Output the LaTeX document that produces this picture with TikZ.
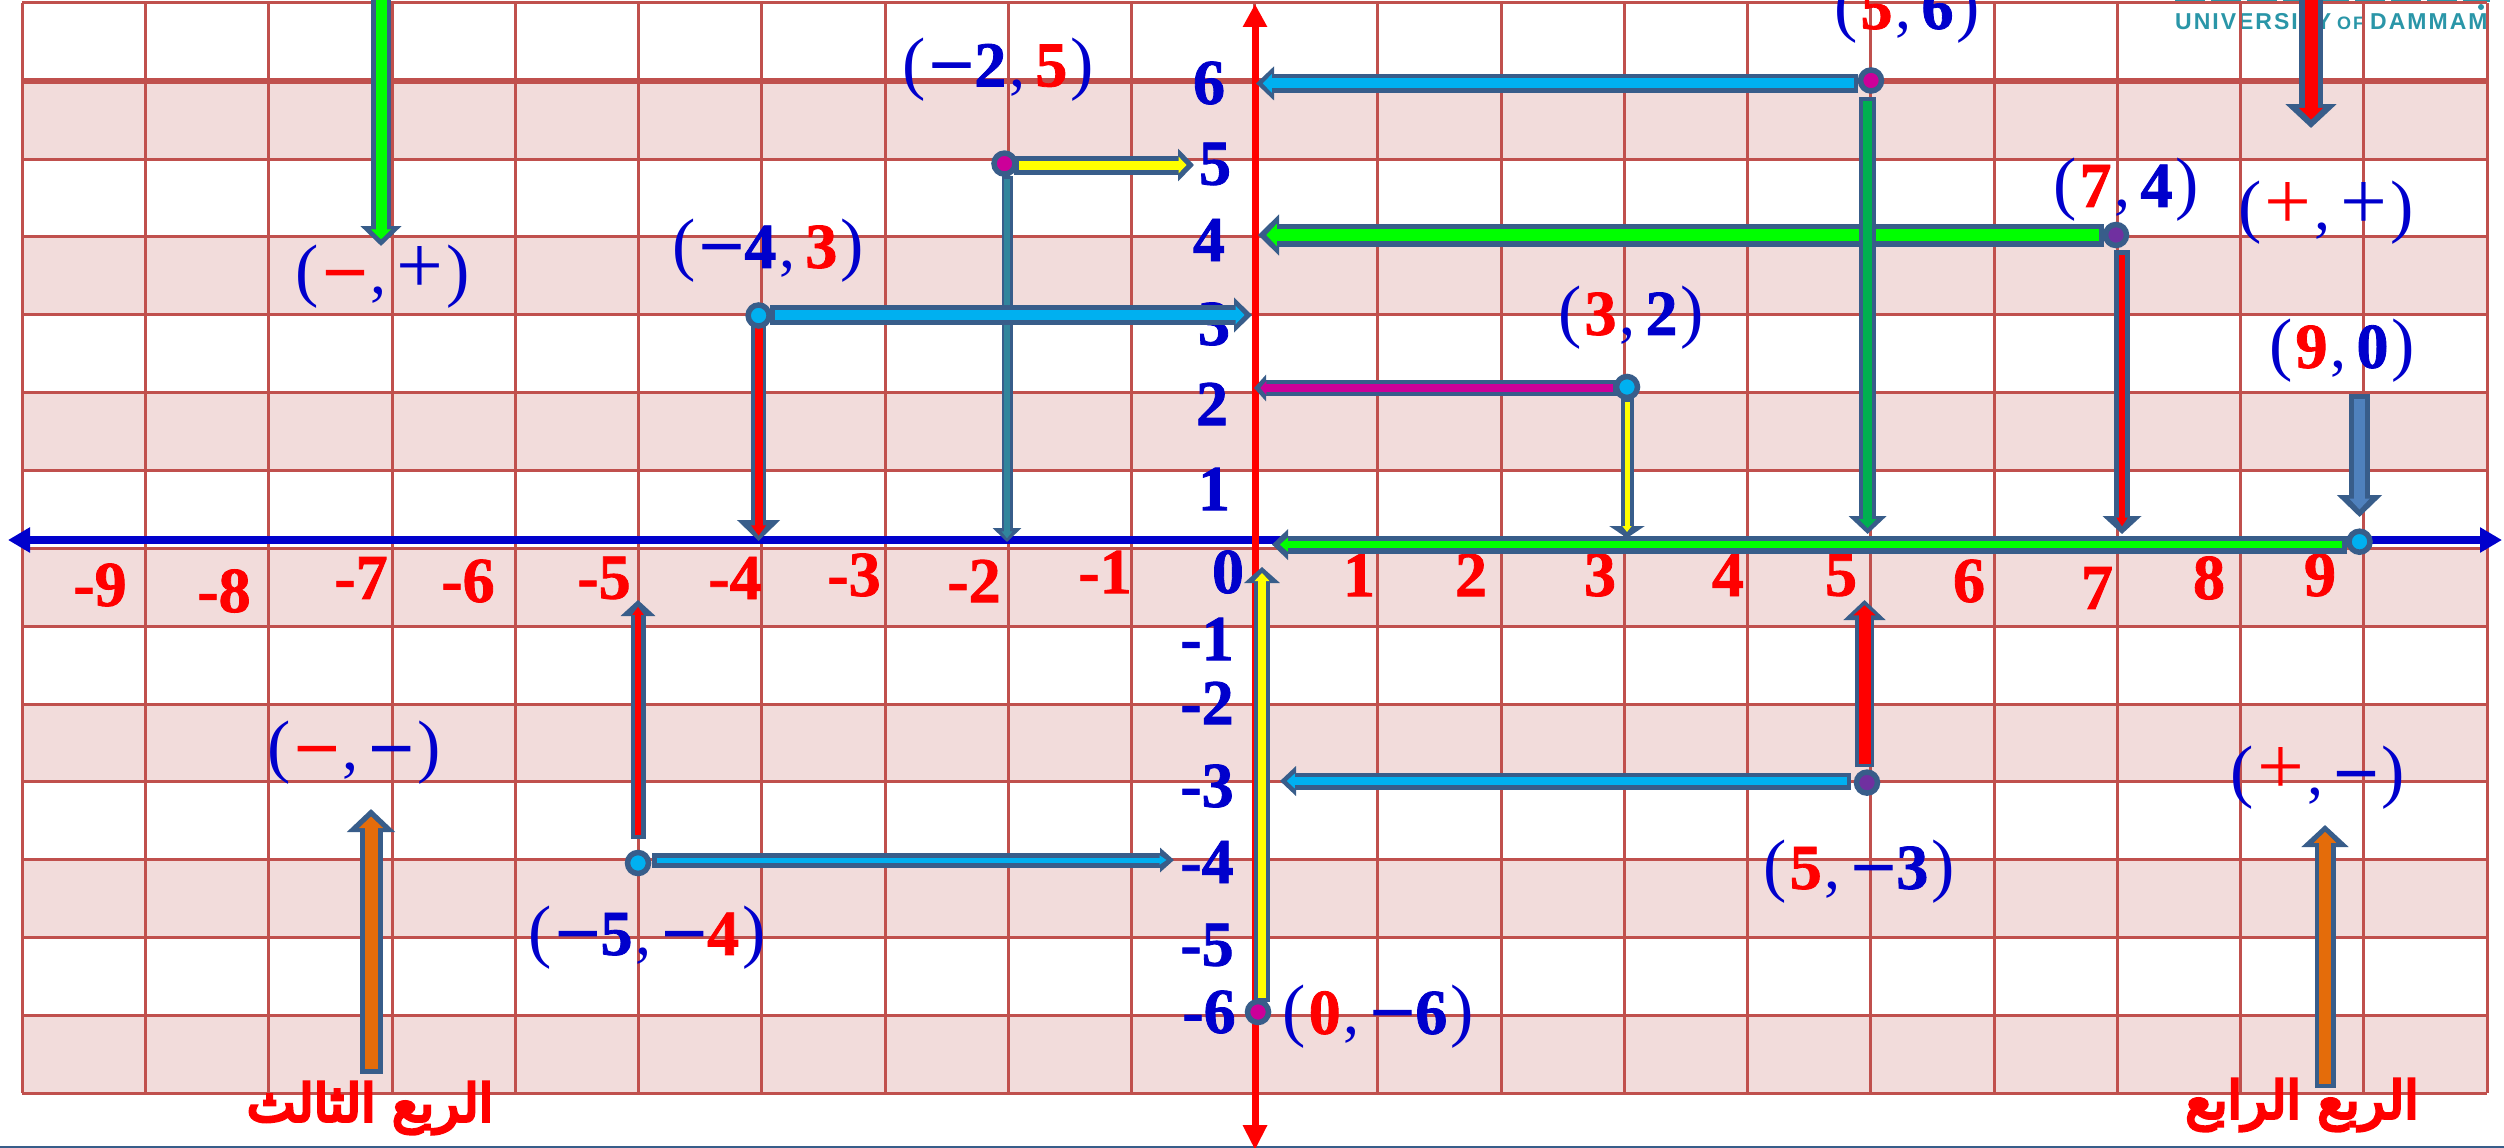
\documentclass[tikz,border=0pt]{standalone}
\usepackage{graphicx}
\usepackage{fontspec}
\setmainfont{Liberation Serif}[BoldFeatures={FakeBold=1.3}]
\newfontfamily\arabicfont[Script=Arabic,FakeBold=6]{DejaVu Sans}
\newfontfamily\logofont{Liberation Sans}
\usetikzlibrary{arrows.meta,calc}
\TeXXeTstate=1
\definecolor{ablue}{HTML}{0000CC}
\definecolor{ared}{HTML}{FF0000}
\definecolor{gridl}{HTML}{C0504D}
\definecolor{rowtint}{HTML}{F2DCDB}
\definecolor{edgec}{HTML}{385D8A}
\definecolor{cyanf}{HTML}{00B0F0}
\definecolor{limef}{HTML}{00FF00}
\definecolor{greenf}{HTML}{00B050}
\definecolor{magf}{HTML}{CC0099}
\definecolor{purf}{HTML}{7030A0}
\definecolor{yelf}{HTML}{FFFF00}
\definecolor{tealf}{HTML}{31859C}
\definecolor{oranf}{HTML}{E46C0A}
\definecolor{steelf}{HTML}{4F81BD}
\definecolor{logoc}{HTML}{2A96A8}
\newcommand\rd[1]{\textcolor{ared}{\bfseries #1}}
\newcommand\bl[1]{\textcolor{ablue}{\bfseries #1}}
\newcommand\mn{\scalebox{1.25}[1]{−}}
\newcommand\pl{\scalebox{1.3}{+}}
\newcommand\crd[1]{{\fontsize{70}{70}\selectfont(}\kern 3pt #1\kern 3pt{\fontsize{70}{70}\selectfont)}}
\newcommand\cm{\kern 3pt,\kern 10pt}
\newcommand\blk[7]{%
  \pgfmathsetlengthmacro\ee{(#4-#5)/2}%
  \pgfmathsetlengthmacro\ss{1.5*(#4-#5)/2}%
  \pgfmathsetlengthmacro\il{0.5*#7}%
  \pgfmathsetlengthmacro\iw{1.8*#5}%
  \draw[draw=edgec,line width=#4pt,-{Triangle[length=#7pt,width=#6pt]}] (#1) -- (#2);
  \draw[draw=#3,line width=#5pt,shorten <=\ee,shorten >=\ss,-{Triangle[length=\il,width=\iw]}] (#1) -- (#2);
}
\tikzset{
  x=1pt,y=-1pt,
  ptnode/.style={circle,draw=edgec,line width=5.5pt,minimum size=21pt,inner sep=0pt},
  coordlab/.style={font=\fontsize{64}{64}\selectfont,text=ablue,inner sep=0pt},
  xnum/.style={font=\fontsize{64}{64}\selectfont\bfseries,text=ared,inner sep=0pt},
  ynum/.style={font=\fontsize{64}{64}\selectfont\bfseries,text=ablue,inner sep=0pt},
  gridline/.style={draw=gridl,line width=3pt},
  axisx/.style={draw=ablue,line width=8pt},
  axisy/.style={draw=ared,line width=7pt},
  quart/.style={text=ared,inner sep=0pt},
}
\begin{document}
\begin{tikzpicture}
\clip (0,0) rectangle (2504,1148);
\fill[white] (0,0) rectangle (2504,1148);
% logo
\draw[logoc,line width=3pt,dash pattern=on 30pt off 6pt] (2175,0.5) -- (2490,0.5);
\fill[logoc] (2481,7) circle (3);
\node[text=logoc,inner sep=0pt,anchor=west,font=\logofont\fontsize{23}{23}\selectfont\bfseries] (logo) at (2175,22) {U\kern 2pt N\kern 2pt I\kern 2pt V\kern 2pt E\kern 2pt R\kern 2pt S\kern 2pt I\kern 2pt T\kern 2pt Y\kern 6pt \fontsize{18}{18}\selectfont O\kern 2pt F\kern 6pt \fontsize{23}{23}\selectfont D\kern 2pt A\kern 2pt M\kern 2pt M\kern 2pt A\kern 2pt M};
% shaded rows
\foreach \a/\b in {81/159,236.5/314,392/470,548/626,704/781.5,859/937,1015/1093}
  \fill[rowtint] (22.4,\a) rectangle (2487,\b);
% grid
\foreach \i in {0,...,20}
  \draw[gridline] ({22.4+123.23*\i},3) -- ({22.4+123.23*\i},1093);
\foreach \yy in {3,159,236.5,314,392,470,548,626,704,781.5,859,937,1015,1093}
  \draw[gridline] (22.4,\yy) -- (2487,\yy);
\draw[gridline,line width=5.5pt] (22.4,81) -- (2487,81);
% bottom rule
\draw[draw=edgec,line width=3pt] (0,1147) -- (2504,1147);
% numbers on the x axis
\foreach \t/\px/\py in {-9/100/585,-8/224/591,-7/361/578,-6/468/581,-5/604/578,-4/735/578,-3/854/575,-2/974/581,-1/1105/572,1/1359/575,2/1471/575,3/1600/575,4/1728/575,5/1841/575,6/1969/581,7/2097/588,8/2209/578,9/2320/575}
  \node[xnum] (x\t) at (\px,\py) {\t};
% numbers on the y axis
\foreach \t/\px/\py in {0/1228/572,6/1209/83,5/1215/164,4/1209/240,3/1214/324,2/1212/404,1/1214/489,-1/1207/639,-2/1207/703,-3/1207/786,-4/1207/862,-5/1207/945,-6/1209/1012}
  \node[ynum] (y\t) at (\px,\py) {\t};
% axes
\coordinate (xl) at (8,540);
\coordinate (xr) at (2502,540);
\coordinate (yt) at (1255,4);
\coordinate (yb) at (1255,1150);
\draw[axisx,{Triangle[length=22pt,width=24pt]}-{Triangle[length=22pt,width=24pt]}] (xl) -- (xr);
\draw[axisy,{Triangle[length=23pt,width=23pt]}-{Triangle[length=25pt,width=23pt]}] (yt) -- (yb);
% free ends
\coordinate (a1s) at (1014,165); \coordinate (a1e) at (1194,165);
\coordinate (a2s) at (1007,176); \coordinate (a2e) at (1007,542);
\coordinate (a3s) at (770,315); \coordinate (a3e) at (1252,315);
\coordinate (a4s) at (758.6,319); \coordinate (a4e) at (758.6,541);
\coordinate (a5s) at (381,-10); \coordinate (a5e) at (381,246);
\coordinate (a6s) at (1858,83.4); \coordinate (a6e) at (1256,83.4);
\coordinate (a7s) at (1867.6,97); \coordinate (a7e) at (1867.6,534);
\coordinate (a8s) at (2104,235); \coordinate (a8e) at (1258,235);
\coordinate (a9s) at (2122,250); \coordinate (a9e) at (2122,534);
\coordinate (a10s) at (1617,388); \coordinate (a10e) at (1254,388);
\coordinate (a11s) at (1627,398); \coordinate (a11e) at (1627,538);
\coordinate (a12s) at (2347,544.6); \coordinate (a12e) at (1272,544.6);
\coordinate (a13s) at (2359.5,393.5); \coordinate (a13e) at (2359.5,517);
\coordinate (a14s) at (2311,-10); \coordinate (a14e) at (2311,128);
\coordinate (a15s) at (652,860); \coordinate (a15e) at (1174,860);
\coordinate (a16s) at (638,839); \coordinate (a16e) at (638,600);
\coordinate (a17s) at (371,1073.6); \coordinate (a17e) at (371,809);
\coordinate (a18s) at (1851,781); \coordinate (a18e) at (1280,781);
\coordinate (a19s) at (1864.5,767); \coordinate (a19e) at (1864.5,600);
\coordinate (a20s) at (1262,1002); \coordinate (a20e) at (1262,567);
\coordinate (a21s) at (2325,1088); \coordinate (a21e) at (2325,825);
% block arrows: from, to, fill, shaft, inner, head width, head length
\blk{a2s}{a2e}{tealf}{11}{6}{28}{14}
\blk{a1s}{a1e}{yelf}{19}{9}{32}{16}
\blk{a3s}{a3e}{cyanf}{20}{10}{34}{18}
\blk{a4s}{a4e}{ared}{15}{8}{42}{21}
\blk{a5s}{a5e}{limef}{20}{11}{40}{20}
\blk{a6s}{a6e}{cyanf}{19}{10}{33}{18}
\blk{a8s}{a8e}{limef}{23}{12}{40}{21}
\blk{a7s}{a7e}{greenf}{17.5}{9.5}{37}{18}
\blk{a9s}{a9e}{ared}{16}{6}{38}{18}
\blk{a10s}{a10e}{magf}{16}{7.5}{26}{12}
\blk{a11s}{a11e}{yelf}{13}{5}{35}{12}
\blk{a12s}{a12e}{limef}{18}{7.5}{30}{16}
\blk{a13s}{a13e}{steelf}{21}{11}{44}{22}
\blk{a14s}{a14e}{ared}{24}{13}{50}{24}
\blk{a15s}{a15e}{cyanf}{15}{5}{24}{14}
\blk{a16s}{a16e}{ared}{15}{6}{34}{16}
\blk{a17s}{a17e}{oranf}{23}{13}{47}{23}
\blk{a18s}{a18e}{cyanf}{17}{8}{29}{16}
\blk{a19s}{a19e}{ared}{19}{12}{41}{20}
\blk{a20s}{a20e}{yelf}{16}{8}{35}{16}
\blk{a21s}{a21e}{oranf}{21}{12}{46}{22}
% points
\node[ptnode,fill=magf] (pa) at (1004.5,163.6) {};
\node[ptnode,fill=cyanf] (pb) at (758.6,315.5) {};
\node[ptnode,fill=magf] (pc) at (1871,80.5) {};
\node[ptnode,fill=purf] (pd) at (2116,235) {};
\node[ptnode,fill=cyanf] (pe) at (1627,387) {};
\node[ptnode,fill=cyanf] (pf) at (2359.5,541.7) {};
\node[ptnode,fill=cyanf] (pg) at (638,863) {};
\node[ptnode,fill=purf] (ph) at (1867,782.6) {};
\node[ptnode,fill=magf] (pi) at (1258,1012) {};
% coordinate labels
\node[coordlab] (l1) at (998,69.5) {\crd{\bl{\mn 2}\cm\rd{5}}};
\node[coordlab] (l2) at (768,251) {\crd{\bl{\mn 4}\cm\rd{3}}};
\node[coordlab] (l3) at (383,277) {\crd{\rd{\mn}\cm\textcolor{ablue}{\pl}}};
\node[coordlab] (l4) at (1907,12) {\crd{\rd{5}\cm\bl{6}}};
\node[coordlab] (l5) at (2126,190) {\crd{\rd{7}\cm\bl{4}}};
\node[coordlab] (l6) at (2326,213) {\crd{\textcolor{ared}{\pl}\cm\textcolor{ablue}{\pl}}};
\node[coordlab] (l7) at (1631,318) {\crd{\rd{3}\cm\bl{2}}};
\node[coordlab] (l8) at (2342,351) {\crd{\rd{9}\cm\bl{0}}};
\node[coordlab] (l9) at (354,753) {\crd{\rd{\mn}\cm\bl{\mn}}};
\node[coordlab] (l10) at (647,938) {\crd{\bl{\mn 5}\cm\bl{\mn}\rd{4}}};
\node[coordlab] (l11) at (1859,872) {\crd{\rd{5}\cm\bl{\mn 3}}};
\node[coordlab] (l12) at (2318,778) {\crd{\textcolor{ared}{\pl}\cm\bl{\mn}}};
\node[coordlab] (l13) at (1378,1017) {\crd{\rd{0}\cm\bl{\mn 6}}};
% quadrant names
\node[quart,font=\arabicfont\fontsize{52}{52}\selectfont] (q3) at (370,1108) {\beginR الربع الثالث\endR};
\node[quart,font=\arabicfont\fontsize{52}{52}\selectfont] (q4) at (2302,1105) {\beginR الربع الرابع\endR};
\end{tikzpicture}
\end{document}
